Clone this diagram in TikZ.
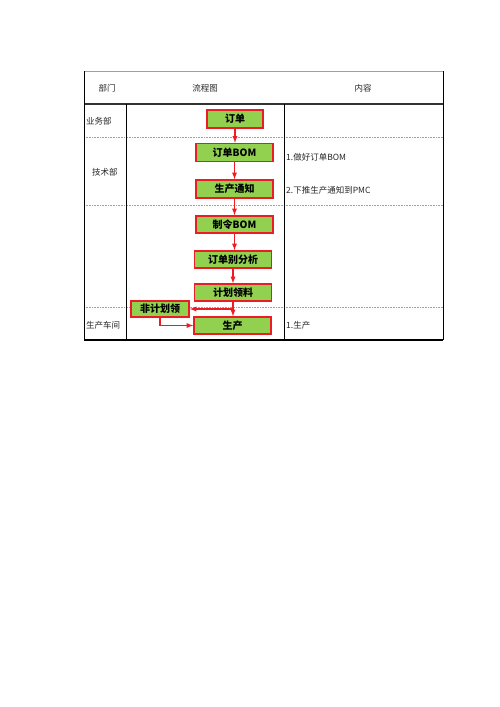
\documentclass[tikz,border=0pt]{standalone}
\usepackage{fontspec}
\setmainfont{Noto Sans CJK SC}
\usetikzlibrary{shapes, arrows, positioning}
\definecolor{boxgreen}{RGB}{146,208,80}
\definecolor{boxred}{RGB}{235,28,36}
\definecolor{rulegray}{RGB}{160,160,160}
\tikzset{
	flowbox/.style={draw=boxred, line width=1.5pt, fill=boxgreen, minimum height=17pt, minimum width=77pt, inner sep=0pt, font=\bfseries\fontsize{10}{10}\selectfont},
	flow/.style={boxred, line width=1.3pt, -latex},
	cell/.style={font=\fontsize{8.5}{9}\selectfont, text=black!85, inner sep=0pt}
}

\begin{document}
\begin{tikzpicture}[x=1pt, y=-1pt]
	\useasboundingbox (0,0) rectangle (500,707);
	% table
	\draw[rulegray, line width=0.8pt] (84,71) -- (443,71);
	\draw[black!80, line width=1.3pt] (84,104) -- (443,104);
	\foreach \y in {137,205,307}
		\draw[rulegray, line width=0.6pt, dash pattern=on 1pt off 0.6pt] (84,\y) -- (443,\y);
	\draw[line width=1.3pt] (84,340) -- (443,340);
	\draw[line width=0.8pt] (84,71) -- (84,340) (443,71) -- (443,340);
	\draw[line width=0.8pt] (126,104) -- (126,340) (284,104) -- (284,340);
	% header and rows
	\node[cell] (hdept) at (107,88) {部门};
	\node[cell] (hflow) at (205,88) {流程图};
	\node[cell] (hcont) at (363,88) {内容};
	\node[cell, anchor=west] (sales) at (86,121) {业务部};
	\node[cell, anchor=west] (tech) at (92,172) {技术部};
	\node[cell, anchor=west] (shop) at (86,325) {生产车间};
	\node[cell, anchor=west] (c1) at (286,157) {1.做好订单BOM};
	\node[cell, anchor=west] (c2) at (286,190) {2.下推生产通知到PMC};
	\node[cell, anchor=west] (c3) at (286,325) {1.生产};
	% flow
	\node[flowbox, minimum width=56pt, minimum height=18pt] (order) at (235,119) {订单};
	\node[flowbox, minimum height=18pt] (orderbom) at (234.5,152.5) {订单BOM};
	\node[flowbox, minimum height=18pt] (notice) at (234.5,189) {生产通知};
	\node[flowbox] (mobom) at (234.5,224.5) {制令BOM};
	\node[flowbox] (analysis) at (233,259.5) {订单别分析};
	\node[flowbox] (picking) at (233,292.5) {计划领料};
	\node[flowbox] (produce) at (232.5,325.5) {生产};
	\node[flowbox, minimum width=58pt, minimum height=16pt] (unplanned) at (160,309) {非计划领};
	\foreach \a/\b in {order/orderbom, orderbom/notice, notice/mobom, mobom/analysis, analysis/picking, picking/produce}
		\draw[flow] (\a.south) -- (\a.south |- \b.north);
	\coordinate (fork) at (picking.south |- unplanned.east);
	\draw[flow] (fork) -- (unplanned.east);
	\draw[flow] (unplanned.south) |- (produce.west);
\end{tikzpicture}
\end{document}
